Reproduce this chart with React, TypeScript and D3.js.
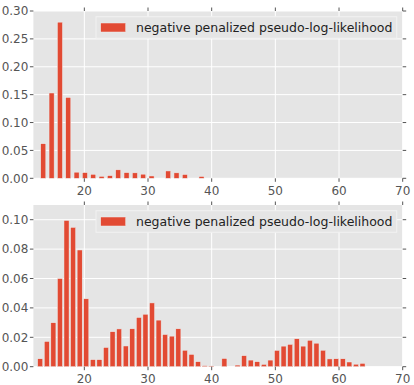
import React from "react";
import * as d3 from "d3";

// histogram bins: left edge of the first bin, bin spacing, bar heights
const topStart = 13.15;
const topBin = 1.308;
const topValues = [
  0.062, 0.153, 0.28, 0.145, 0.011, 0.0102, 0.0072, 0.0036, 0.0048, 0.0152,
  0.0102, 0.0098, 0.0074, 0.0042, 0, 0.0132, 0.0098, 0.0068, 0, 0.0033,
];

const bottomStart = 12.67;
const bottomBin = 1.033;
const bottomValues = [
  0.0054, 0.0172, 0.0299, 0.06, 0.0995, 0.0948, 0.0794, 0.0462, 0.0048, 0.0048,
  0.0131, 0.0238, 0.0257, 0.0141, 0.0258, 0.0335, 0.0357, 0.0434, 0.0317, 0.0219,
  0.0208, 0.0258, 0.0112, 0.0084, 0.0034, 0.0007, 0.0005, 0, 0.0056, 0,
  0.0011, 0.0075, 0.0045, 0.0034, 0.0016, 0.0045, 0.0111, 0.014, 0.0152, 0.019,
  0.014, 0.018, 0.016, 0.0112, 0.0053, 0.0054, 0.0054, 0.0032, 0.0017, 0.0023,
];

const xTicks = [20, 30, 40, 50, 60, 70];
const topYTicks = [0, 0.05, 0.1, 0.15, 0.2, 0.25, 0.3];
const bottomYTicks = [0, 0.02, 0.04, 0.06, 0.08, 0.1];
const legendLabel = "negative penalized pseudo-log-likelihood";

const W = 414;
const H = 385;
const FONT = "DejaVu Sans, sans-serif";
const BAR_WIDTH = 0.8;

const x = d3.scaleLinear().domain([12, 70]).range([33.4, 402.7]);

function Panel({start, bin, values, yTicks, yMax, top, bottom}) {
  const y = d3.scaleLinear().domain([0, yMax]).range([bottom, top]);
  const [x0, x1] = x.range();
  const fmt = d3.format(".2f");

  return (
    <g>
      <rect x={x0} y={top} width={x1 - x0} height={bottom - top} fill="#E5E5E5" />
      {xTicks.map(t => (
        <line key={"gx" + t} x1={x(t)} x2={x(t)} y1={top} y2={bottom} stroke="#fff" strokeWidth={1} />
      ))}
      {yTicks.map(t => (
        <line key={"gy" + t} x1={x0} x2={x1} y1={y(t)} y2={y(t)} stroke="#fff" strokeWidth={1} />
      ))}
      {values.map((v, i) => {
        if (v <= 0) return null;
        const left = start + i * bin;
        return (
          <rect key={i} x={x(left)} y={y(v)} width={x(left + BAR_WIDTH) - x(left)}
            height={y(0) - y(v)} fill="#E24A33" stroke="#EEEEEE" strokeWidth={0.5} />
        );
      })}
      {/* outward ticks on all four sides */}
      {xTicks.map(t => (
        <g key={"tx" + t} stroke="#555" strokeWidth={1}>
          <line x1={x(t)} x2={x(t)} y1={bottom} y2={bottom + 3.5} />
          <line x1={x(t)} x2={x(t)} y1={top} y2={top - 3.5} />
        </g>
      ))}
      {yTicks.map(t => (
        <g key={"ty" + t} stroke="#555" strokeWidth={1}>
          <line x1={x0} x2={x0 - 3.5} y1={y(t)} y2={y(t)} />
          <line x1={x1} x2={x1 + 3.5} y1={y(t)} y2={y(t)} />
        </g>
      ))}
      {xTicks.map(t => (
        <text key={"lx" + t} x={x(t)} y={bottom + 16.5} textAnchor="middle"
          fontFamily={FONT} fontSize={12} fill="#555">{t}</text>
      ))}
      {yTicks.map(t => (
        <text key={"ly" + t} x={x0 - 5} y={y(t)} dy="0.36em" textAnchor="end"
          fontFamily={FONT} fontSize={12} fill="#555">{fmt(t)}</text>
      ))}
      <g transform={`translate(0, ${top + 5.7})`}>
        <rect x={96} y={0} width={300.7} height={21.6} fill="#E5E5E5" stroke="#F2F2F2" strokeWidth={1} />
        <rect x={100.7} y={6.3} width={25} height={9} fill="#E24A33" stroke="#EEEEEE" strokeWidth={0.5} />
        <text x={136} y={10.8} dy="0.36em" fontFamily={FONT} fontSize={12.5} fill="#222">{legendLabel}</text>
      </g>
    </g>
  );
}

export default function App() {
  return (
    <svg width={W} height={H} style={{position: "absolute", left: 0, top: 0, background: "#fff"}}>
      <Panel start={topStart} bin={topBin} values={topValues} yTicks={topYTicks}
        yMax={0.3} top={11} bottom={178.3} />
      <Panel start={bottomStart} bin={bottomBin} values={bottomValues} yTicks={bottomYTicks}
        yMax={0.11} top={205} bottom={366.7} />
    </svg>
  );
}
